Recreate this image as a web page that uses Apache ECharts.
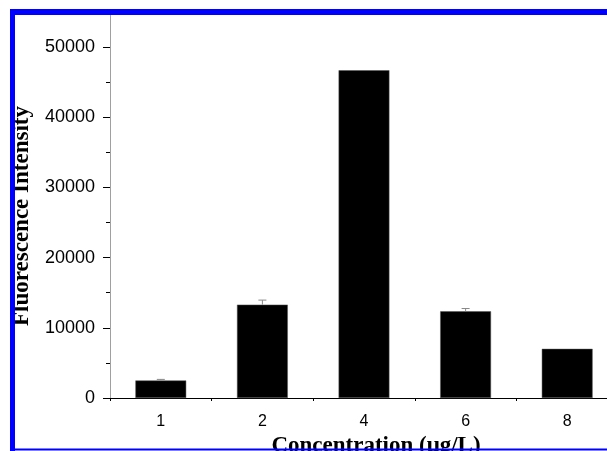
<!DOCTYPE html>
<html>
<head>
<meta charset="utf-8">
<script src="https://cdn.jsdelivr.net/npm/echarts@6/dist/echarts.min.js"></script>
<style>
html,body{margin:0;padding:0;background:#fff;}
#chart{width:607px;height:451px;}
</style>
</head>
<body>
<div id="chart"></div>
<script>
var categories = ['1', '2', '4', '6', '8'];
var intensity = [2500, 13300, 46700, 12350, 7000];
var errors = [150, 650, 0, 400, 0];
var yTicks = [0, 10000, 20000, 30000, 40000, 50000];
var xTitle = 'Concentration (\u03bcg/L)';
var yTitle = 'Fluorescence Intensity';

var chart = echarts.init(document.getElementById('chart'));
var errData = categories.map(function (c, i) { return [i, intensity[i], intensity[i] + errors[i]]; });

chart.setOption({
  animation: false,
  backgroundColor: '#ffffff',
  grid: { left: 110, width: 508, top: 12, height: 386, containLabel: false, outerBoundsMode: 'none' },
  xAxis: [{
    type: 'category',
    data: categories,
    boundaryGap: true,
    axisLine: { lineStyle: { color: '#000', width: 1 } },
    axisTick: { alignWithLabel: true, length: 5, lineStyle: { color: '#000' } },
    axisLabel: { color: '#000', fontFamily: 'Liberation Sans', fontSize: 16, margin: 16 },
    name: xTitle,
    nameLocation: 'middle',
    nameGap: 34,
    nameTextStyle: { fontFamily: 'Liberation Serif', fontWeight: 'bold', fontSize: 23, color: '#000', padding: [0, 0, 0, 24] }
  }, {
    type: 'value',
    min: 0, max: 5, interval: 1,
    position: 'bottom',
    axisLine: { show: false },
    axisTick: { show: true, length: 3, lineStyle: { color: '#000' } },
    axisLabel: { show: false },
    splitLine: { show: false }
  }],
  yAxis: [{
    type: 'value',
    min: 0, max: 55000, interval: 10000,
    axisLine: { show: true, lineStyle: { color: '#a0a0a0', width: 1 } },
    axisTick: { show: true, length: 7, lineStyle: { color: '#000' } },
    axisLabel: {
      color: '#000', fontFamily: 'Liberation Sans', fontSize: 18, margin: 15, showMaxLabel: false,
      formatter: function (v) { return yTicks.indexOf(v) >= 0 ? String(v) : ''; }
    },
    splitLine: { show: false },
    name: yTitle,
    nameLocation: 'middle',
    nameGap: 76,
    nameTextStyle: { fontFamily: 'Liberation Serif', fontWeight: 'bold', fontSize: 23, color: '#000', padding: [0, 22, 0, 0] }
  }, {
    type: 'value',
    min: 0, max: 55000, interval: 5000,
    position: 'left',
    axisLine: { show: false },
    axisTick: { show: true, length: 4, lineStyle: { color: '#000' } },
    axisLabel: { show: false },
    splitLine: { show: false }
  }],
  series: [{
    type: 'bar',
    xAxisIndex: 0, yAxisIndex: 0,
    data: intensity,
    barWidth: '50%',
    itemStyle: { color: '#000', borderColor: '#555', borderWidth: 0.5 }
  }, {
    type: 'custom',
    xAxisIndex: 0, yAxisIndex: 0,
    data: errData,
    z: 5,
    renderItem: function (params, api) {
      if (api.value(2) <= api.value(1)) return null;
      var base = api.coord([api.value(0), api.value(1)]);
      var top = api.coord([api.value(0), api.value(2)]);
      var style = { stroke: '#888', lineWidth: 1 };
      return {
        type: 'group',
        children: [
          { type: 'line', shape: { x1: base[0], y1: base[1], x2: top[0], y2: top[1] }, style: style },
          { type: 'line', shape: { x1: top[0] - 4, y1: top[1], x2: top[0] + 4, y2: top[1] }, style: style }
        ]
      };
    }
  }],
  graphic: [
    { type: 'rect', shape: { x: 10, y: 9, width: 597, height: 6 }, style: { fill: '#0000ff' }, z: 100 },
    { type: 'rect', shape: { x: 10, y: 9, width: 5, height: 442 }, style: { fill: '#0000ff' }, z: 100 },
    { type: 'rect', shape: { x: 10, y: 448.5, width: 597, height: 2 }, style: { fill: '#0000ff' }, z: 100 }
  ]
});
</script>
</body>
</html>
